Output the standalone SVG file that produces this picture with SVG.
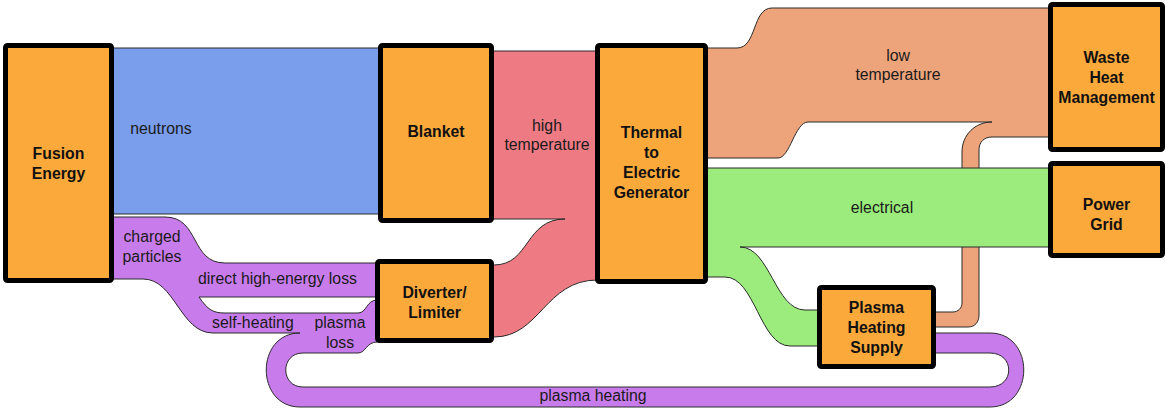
<svg xmlns="http://www.w3.org/2000/svg" width="1166" height="408" viewBox="0 0 1166 408">
<style>
.flow{stroke:#2a2a2a;stroke-width:1;stroke-linejoin:round}
.node rect{fill:#fca93c;stroke:#000;stroke-width:5}
.nl{font-family:"Liberation Sans",Arial,sans-serif;font-weight:bold;font-size:15.8px;fill:#111;text-anchor:middle}
.fl{font-family:"Liberation Sans",Arial,sans-serif;font-size:15.8px;fill:#1a1a1a}
.m{text-anchor:middle}
</style>
<rect width="1166" height="408" fill="#fff"/>
<g id="connectors">
<path id="neutrons" class="flow" fill="#7a9eec" d="M111.5,48 H380.5 V214 H111.5 Z"/>
<path id="high-temperature" class="flow" fill="#ee7a84" d="M491.5,51 H597.5 V280 C545,280 540,337 494,337 H491.5 V265 H494 C530,265 525,219 565,219 H491.5 Z"/>
<path id="low-temperature" class="flow" fill="#eea47b" d="M705.5,48 H737 C757,48 752,8 772,8 H1050.5 V137 H992 C984,137 979,142 979,150 V315 C979,322 975,327 968,327 H933.5 V312 H953 C958,312 962,308 962,303 V152 C962,135 975,122 992,122 H808 C795,122 790,158 778,158 H705.5 Z"/>
<path id="electrical" class="flow" fill="#9bec7c" d="M705.5,168 H1050.5 V247 H740 C770,247 775,310 805,310 H819.5 V346 H790 C760,346 755,277 725,277 H705.5 Z"/>
<path id="charged" class="flow" fill="#c87cec" d="M111.5,217 H165 C200,217 190,263 225,263 H377.5 V297 H199 C208,310 213,313 225,313 H358 C367,313 366,300 377.5,300 V342 C366,342 366,353 358,353 H303 C280,353 280,387 303,387 H990 C1015,387 1015,353 990,353 H933.5 V333 H990 C1035,333 1035,407 990,407 H300 C255,407 255,333 300,333 H213 C180,333 175,279 143,279 H111.5 Z"/>
</g>
<g id="flow-labels">
<text class="fl m" x="161" y="134">neutrons</text>
<text class="fl m" x="547" y="131">high</text>
<text class="fl m" x="547" y="150">temperature</text>
<text class="fl m" x="898" y="61">low</text>
<text class="fl m" x="898" y="80">temperature</text>
<text class="fl m" x="882" y="213">electrical</text>
<text class="fl m" x="152" y="242">charged</text>
<text class="fl m" x="152" y="262">particles</text>
<text class="fl" x="198" y="284">direct high-energy loss</text>
<text class="fl" x="212" y="328">self-heating</text>
<text class="fl m" x="340" y="328">plasma</text>
<text class="fl m" x="340" y="347.5">loss</text>
<text class="fl m" x="593" y="401">plasma heating</text>
</g>
<g id="fusion-energy" class="node"><rect x="5.5" y="45.5" width="106" height="235" rx="2"/><text class="nl" x="58.5" y="158.5">Fusion</text><text class="nl" x="58.5" y="178.5">Energy</text></g>
<g id="blanket" class="node"><rect x="380.5" y="45.5" width="111" height="175" rx="2"/><text class="nl" x="436" y="136.5">Blanket</text></g>
<g id="diverter" class="node"><rect x="377.5" y="261.5" width="114" height="79" rx="2"/><text class="nl" x="434.5" y="298">Diverter/</text><text class="nl" x="434.5" y="318">Limiter</text></g>
<g id="generator" class="node"><rect x="597.5" y="45.5" width="108" height="236" rx="2"/><text class="nl" x="651.5" y="138">Thermal</text><text class="nl" x="651.5" y="158">to</text><text class="nl" x="651.5" y="178">Electric</text><text class="nl" x="651.5" y="198">Generator</text></g>
<g id="waste-heat" class="node"><rect x="1050.5" y="4.5" width="112" height="145" rx="2"/><text class="nl" x="1106.5" y="62.7">Waste</text><text class="nl" x="1106.5" y="82.7">Heat</text><text class="nl" x="1106.5" y="102.7">Management</text></g>
<g id="power-grid" class="node"><rect x="1050.5" y="163.5" width="112" height="92" rx="2"/><text class="nl" x="1106.5" y="210">Power</text><text class="nl" x="1106.5" y="230">Grid</text></g>
<g id="plasma-heating-supply" class="node"><rect x="819.5" y="287.5" width="114" height="79" rx="2"/><text class="nl" x="876.5" y="312.7">Plasma</text><text class="nl" x="876.5" y="333">Heating</text><text class="nl" x="876.5" y="352.7">Supply</text></g>
</svg>
